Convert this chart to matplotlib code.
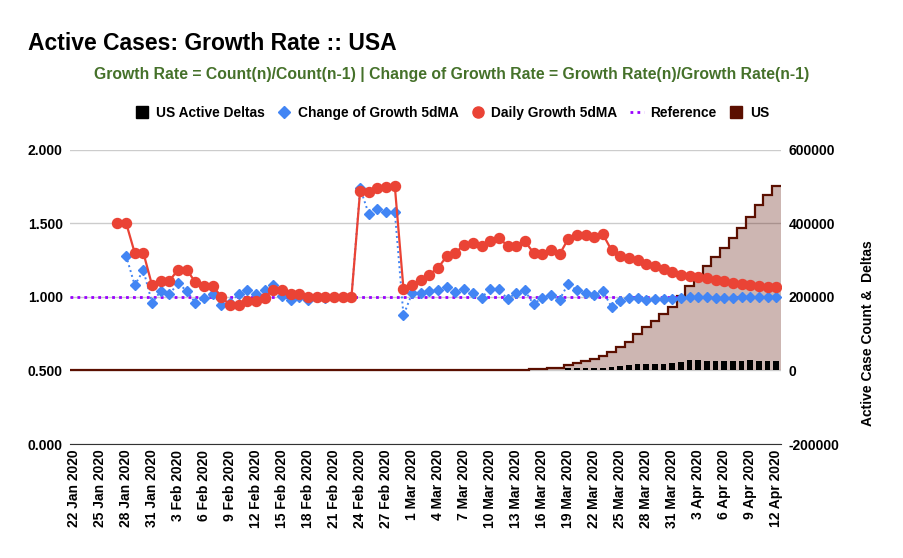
import numpy as np
import pandas as pd
import matplotlib
matplotlib.use("Agg")
import matplotlib.pyplot as plt
from matplotlib.lines import Line2D

plt.rcParams['font.family'] = ['Liberation Sans', 'DejaVu Sans']
plt.rcParams['font.weight'] = 'bold'

# Categories: one per day
dates = pd.date_range("2020-01-22", "2020-04-12", freq="D")

nan = np.nan

# Daily Growth 5dMA (left axis)
daily_growth = [
    nan, nan, nan, nan, nan, 1.505, 1.505, 1.30, 1.30, 1.08,
    1.11, 1.11, 1.186, 1.186, 1.10, 1.077, 1.077, 1.0, 0.945, 0.945,
    0.97, 0.97, 0.995, 1.05, 1.05, 1.023, 1.023, 1.0, 1.0, 1.0,
    1.0, 1.0, 1.0, 1.723, 1.716, 1.743, 1.745, 1.755, 1.055, 1.08,
    1.114, 1.152, 1.20, 1.277, 1.30, 1.357, 1.37, 1.345, 1.38, 1.40,
    1.35, 1.35, 1.38, 1.30, 1.295, 1.318, 1.29, 1.395, 1.42, 1.42,
    1.405, 1.427, 1.318, 1.282, 1.268, 1.25, 1.223, 1.209, 1.19, 1.17,
    1.152, 1.141, 1.136, 1.132, 1.118, 1.109, 1.095, 1.086, 1.082, 1.077,
    1.07, 1.068,
]

# Change of Growth 5dMA (left axis)
change_growth = [
    nan, nan, nan, nan, nan, nan, 1.282, 1.08, 1.182, 0.96,
    1.04, 1.018, 1.095, 1.04, 0.96, 0.995, 1.023, 0.943, 0.96, 1.018,
    1.045, 1.018, 1.05, 1.08, 1.005, 0.977, 1.0, 0.977, 1.0, 0.995,
    1.0, 1.0, 1.0, 1.74, 1.564, 1.598, 1.577, 1.58, 0.875, 1.027,
    1.027, 1.04, 1.045, 1.068, 1.032, 1.057, 1.027, 0.995, 1.055, 1.055,
    0.986, 1.027, 1.045, 0.95, 0.995, 1.014, 0.982, 1.09, 1.045, 1.027,
    1.014, 1.04, 0.932, 0.973, 0.995, 0.99, 0.982, 0.986, 0.984, 0.986,
    0.99, 1.0, 1.0, 1.0, 0.99, 0.995, 0.995, 1.0, 1.0, 1.0,
    1.0, 1.0,
]

reference = 1.0

# US active case count (right axis)
us_active = [
    1, 1, 2, 2, 5, 5, 5, 5, 5, 6,
    8, 8, 11, 11, 11, 11, 11, 11, 11, 12,
    12, 12, 12, 10, 10, 10, 10, 10, 10, 10,
    10, 10, 10, 44, 44, 44, 44, 45, 52, 64,
    83, 104, 139, 193, 238, 370, 470, 500, 900, 1200,
    1550, 2100, 2600, 3300, 4400, 6100, 7400, 13600, 19950, 25400,
    31750, 40800, 50800, 63000, 77100, 97960, 117900, 134300, 152400, 172300,
    201400, 228600, 255800, 283000, 308400, 333800, 361000, 388200, 417200, 449000,
    476200, 500700,
]

# US active deltas (right axis)
us_deltas = [
    0, 0, 1, 0, 3, 0, 0, 0, 0, 1,
    2, 0, 3, 0, 0, 0, 0, 0, 0, 1,
    0, 0, 0, -2, 0, 0, 0, 0, 0, 0,
    0, 0, 0, 34, 0, 0, 0, 1, 7, 12,
    19, 21, 35, 54, 45, 132, 100, 30, 400, 300,
    350, 550, 500, 700, 1100, 1700, 1300, 5500, 5500, 5500,
    5500, 8000, 9500, 12000, 15500, 17000, 17500, 16500, 17000, 21000,
    23000, 27500, 29000, 26000, 24500, 25000, 26500, 27000, 27500, 26500,
    25000, 24500,
]

red = '#ea4335'
blue = '#4285f4'
purple = '#9900ff'
brown = '#5b0f00'

x = np.arange(len(dates))
edges = np.arange(len(dates) + 1) - 0.5

fig = plt.figure(figsize=(9.04, 5.58), dpi=100)
ax = fig.add_axes([0.0771, 0.2043, 0.7864, 0.5269])
ax2 = ax.twinx()
ax.set_zorder(2)
ax2.set_zorder(1)
ax.patch.set_visible(False)

# Right axis: stepped area + deltas
ax2.stairs(us_active, edges, fill=True, color=brown, alpha=0.3, lw=0, zorder=1)
ax2.stairs(us_active, edges, baseline=None, color=brown, lw=1.6, zorder=2)
ax2.bar(x, us_deltas, width=0.65, color='black', zorder=3)
ax2.set_ylim(-200000, 600000)
ax2.set_yticks(np.arange(-200000, 600001, 200000))
ax2.set_yticklabels([f"{v:d}" for v in range(-200000, 600001, 200000)])
ax2.yaxis.grid(True, color='#cccccc', lw=1)
ax2.set_axisbelow(True)

# Left axis: growth lines
ax.axhline(reference, color=purple, lw=2, ls=(0, (1, 1.5)), zorder=1)
ax.plot(x, change_growth, color=blue, lw=1.4, ls=(0, (1, 1.6)),
        marker='D', ms=5.5, mec=blue, zorder=2)
ax.plot(x, daily_growth, color=red, lw=1.6, marker='o', ms=7.2,
        mec=red, zorder=3)
ax.set_ylim(0, 2)
ax.set_yticks([0, 0.5, 1.0, 1.5, 2.0])
ax.set_yticklabels([f"{v:.3f}" for v in [0, 0.5, 1.0, 1.5, 2.0]])
ax.set_xlim(-0.5, len(dates) - 0.5)

tick_idx = x[::3]
ax.set_xticks(tick_idx)
ax.set_xticklabels([f"{dates[i].day} {dates[i]:%b %Y}" for i in tick_idx],
                   rotation=90, fontsize=10, fontweight='bold')

for a in (ax, ax2):
    for s in a.spines.values():
        s.set_visible(False)
    a.tick_params(length=0)
ax2.spines['bottom'].set_visible(True)
ax2.spines['bottom'].set_color('#333333')
ax.tick_params(axis='y', labelsize=10, pad=5)
ax.tick_params(axis='x', pad=4)
ax2.tick_params(axis='y', labelsize=10, pad=6)
for lbl in ax.get_yticklabels() + ax2.get_yticklabels():
    lbl.set_fontweight('bold')

fig.text(868 / 904, 1 - 333 / 558, "Active Case Count &  Deltas", rotation=90,
         ha='center', va='center', fontsize=10, fontweight='bold')

fig.text(28 / 904, 1 - 43 / 558, "Active Cases: Growth Rate :: USA",
         ha='left', va='center', fontsize=16.5, fontweight='bold')
fig.text(452 / 904, 1 - 75 / 558,
         "Growth Rate = Count(n)/Count(n-1) | Change of Growth Rate = Growth Rate(n)/Growth Rate(n-1)",
         ha='center', va='center', fontsize=11.3, fontweight='bold', color='#45712a')

handles = [
    Line2D([], [], ls='none', marker='s', ms=8, color='black'),
    Line2D([], [], ls='none', marker='D', ms=6, color=blue),
    Line2D([], [], ls='none', marker='o', ms=8, color=red),
    Line2D([], [], color=purple, lw=2, ls=(0, (1, 1.5))),
    Line2D([], [], ls='none', marker='s', ms=8, color=brown),
]
labels = ['US Active Deltas', 'Change of Growth 5dMA', 'Daily Growth 5dMA',
          'Reference', 'US']
fig.legend(handles, labels, loc='center', bbox_to_anchor=(452 / 904, 1 - 113 / 558),
           ncol=5, frameon=False, fontsize=9.9, handlelength=1.0,
           handletextpad=0.5, columnspacing=0.9)

fig.savefig('out.png', dpi=100, facecolor='white')
